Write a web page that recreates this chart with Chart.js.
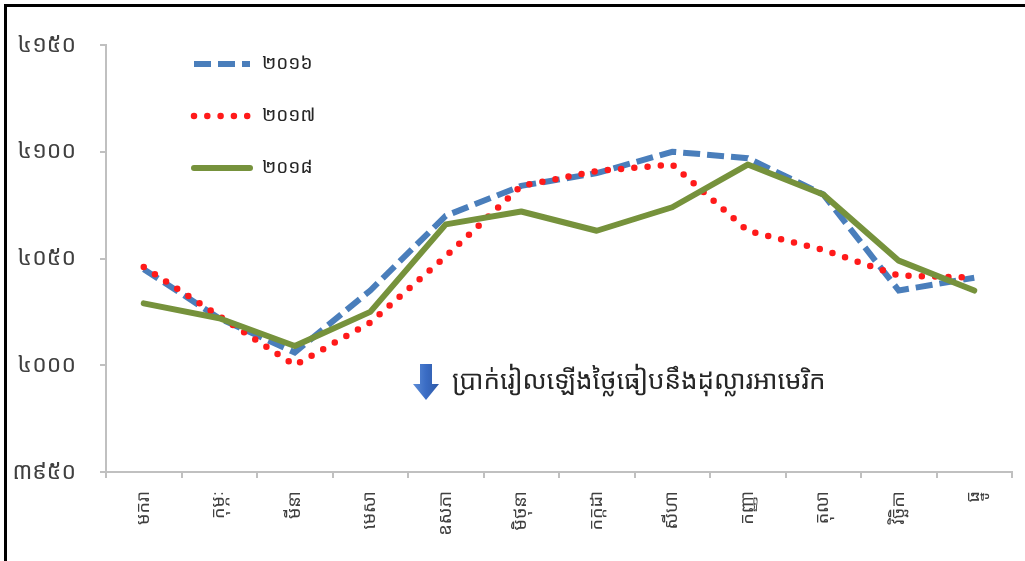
<!DOCTYPE html>
<html>
<head>
<meta charset="utf-8">
<script src="https://cdn.jsdelivr.net/npm/chart.js@4.4.0/dist/chart.umd.min.js"></script>
<style>
  html, body { margin: 0; padding: 0; background: #fff; }
  #wrap { width: 1025px; height: 561px; position: relative; }
</style>
</head>
<body>
<div id="wrap"><canvas id="chart" width="1025" height="561"></canvas></div>
<script>
// data (riel per US dollar, monthly)
const months = ['មករា','កុម្ភៈ','មីនា','មេសា','ឧសភា','មិថុនា','កក្កដា','សីហា','កញ្ញា','តុលា','វិច្ឆិកា','ធ្នូ'];
const years = ['២០១៦','២០១៧','២០១៨'];
const rate2016 = [4045, 4022, 4006, 4035, 4070, 4084, 4090, 4100, 4097, 4080, 4035, 4041];
const rate2017 = [4046, 4023, 4000, 4020, 4051, 4084, 4091, 4094, 4063, 4054, 4042, 4041];
const rate2018 = [4029, 4022, 4009, 4025, 4066, 4072, 4063, 4074, 4094, 4080, 4049, 4035];
const yTicks = [3950, 4000, 4050, 4100, 4150];
const yTickLabels = ['៣៩៥០','៤០០០','៤០៥០','៤១០០','៤១៥០'];
const note = 'ប្រាក់រៀលឡើងថ្លៃធៀបនឹងដុល្លារអាមេរិក';

const FONT = '"Noto Sans Khmer", "Khmer OS", "Noto Sans", "DejaVu Sans", sans-serif';

// black frame on top / left, like the cropped original
const framePlugin = {
  id: 'frame',
  beforeDraw(chart) {
    const ctx = chart.ctx;
    ctx.save();
    ctx.fillStyle = '#fff';
    ctx.fillRect(0, 0, chart.width, chart.height);
    ctx.fillStyle = '#000';
    ctx.fillRect(4, 4, chart.width - 4, 3);
    ctx.fillRect(4, 4, 3, chart.height - 4);
    ctx.restore();
  }
};

// legend sits inside the plot, top-left
const insideLegend = {
  id: 'insideLegend',
  afterDraw(chart) {
    const ctx = chart.ctx;
    chart.data.datasets.forEach((ds, i) => {
      const y = 64 + i * 52;
      ctx.save();
      ctx.strokeStyle = ds.borderColor;
      ctx.lineWidth = ds.borderWidth;
      ctx.lineCap = ds.borderCapStyle || 'butt';
      ctx.setLineDash(ds.borderDash || []);
      ctx.beginPath();
      ctx.moveTo(194, y);
      ctx.lineTo(250, y);
      ctx.stroke();
      ctx.setLineDash([]);
      ctx.fillStyle = '#262626';
      ctx.font = '19px ' + FONT;
      ctx.textBaseline = 'middle';
      ctx.fillText(ds.label, 262, y);
      ctx.restore();
    });
  }
};

// down arrow + note
const notePlugin = {
  id: 'note',
  afterDraw(chart) {
    const ctx = chart.ctx;
    ctx.save();
    const g = ctx.createLinearGradient(414, 0, 438, 0);
    g.addColorStop(0, '#5b8bd6');
    g.addColorStop(0.5, '#3a6cc4');
    g.addColorStop(1, '#2f5aa8');
    ctx.fillStyle = g;
    ctx.beginPath();
    ctx.moveTo(420, 364);
    ctx.lineTo(432, 364);
    ctx.lineTo(432, 384);
    ctx.lineTo(439, 384);
    ctx.lineTo(426, 400);
    ctx.lineTo(413, 384);
    ctx.lineTo(420, 384);
    ctx.closePath();
    ctx.fill();
    ctx.fillStyle = '#262626';
    ctx.font = '26px ' + FONT;
    ctx.textBaseline = 'middle';
    ctx.fillText(note, 452, 382);
    ctx.restore();
  }
};

const ctx = document.getElementById('chart').getContext('2d');
new Chart(ctx, {
  type: 'line',
  data: {
    labels: months,
    datasets: [
      {
        label: years[0],
        data: rate2016,
        borderColor: '#4a7ebb',
        borderWidth: 6,
        borderDash: [17, 7],
        borderCapStyle: 'butt',
        pointRadius: 0,
        tension: 0,
        order: 2
      },
      {
        label: years[1],
        data: rate2017,
        borderColor: '#ff1a1a',
        borderWidth: 6.5,
        borderDash: [0, 13.3],
        borderCapStyle: 'round',
        pointRadius: 0,
        tension: 0,
        order: 1
      },
      {
        label: years[2],
        data: rate2018,
        borderColor: '#76923c',
        borderWidth: 6,
        borderCapStyle: 'round',
        borderJoinStyle: 'round',
        pointRadius: 0,
        tension: 0,
        order: 0
      }
    ]
  },
  options: {
    responsive: false,
    animation: false,
    events: [],
    layout: { padding: { top: 45, right: 13, bottom: 0, left: 0 } },
    scales: {
      x: {
        offset: true,
        grid: { offset: true, drawOnChartArea: false, drawTicks: true, tickLength: 6, color: '#c0c0c0', lineWidth: 2 },
        border: { color: '#c0c0c0', width: 2 },
        ticks: {
          minRotation: 90, maxRotation: 90, autoSkip: false, padding: 13,
          color: '#404040', font: { family: FONT, size: 18 }
        },
        afterFit(scale) { scale.height = 89; }
      },
      y: {
        min: 3950, max: 4150,
        afterBuildTicks(scale) { scale.ticks = yTicks.map(v => ({ value: v })); },
        grid: { drawOnChartArea: false, drawTicks: true, tickLength: 6, color: '#c0c0c0', lineWidth: 2 },
        border: { color: '#c0c0c0', width: 2 },
        ticks: {
          padding: 24,
          color: '#404040',
          font: { family: FONT, size: 23 },
          callback(value) {
            const i = yTicks.indexOf(value);
            return i >= 0 ? yTickLabels[i] : '';
          }
        },
        afterFit(scale) { scale.width = 106; }
      }
    },
    plugins: {
      legend: { display: false },
      tooltip: { enabled: false }
    }
  },
  plugins: [framePlugin, insideLegend, notePlugin]
});
</script>
</body>
</html>
